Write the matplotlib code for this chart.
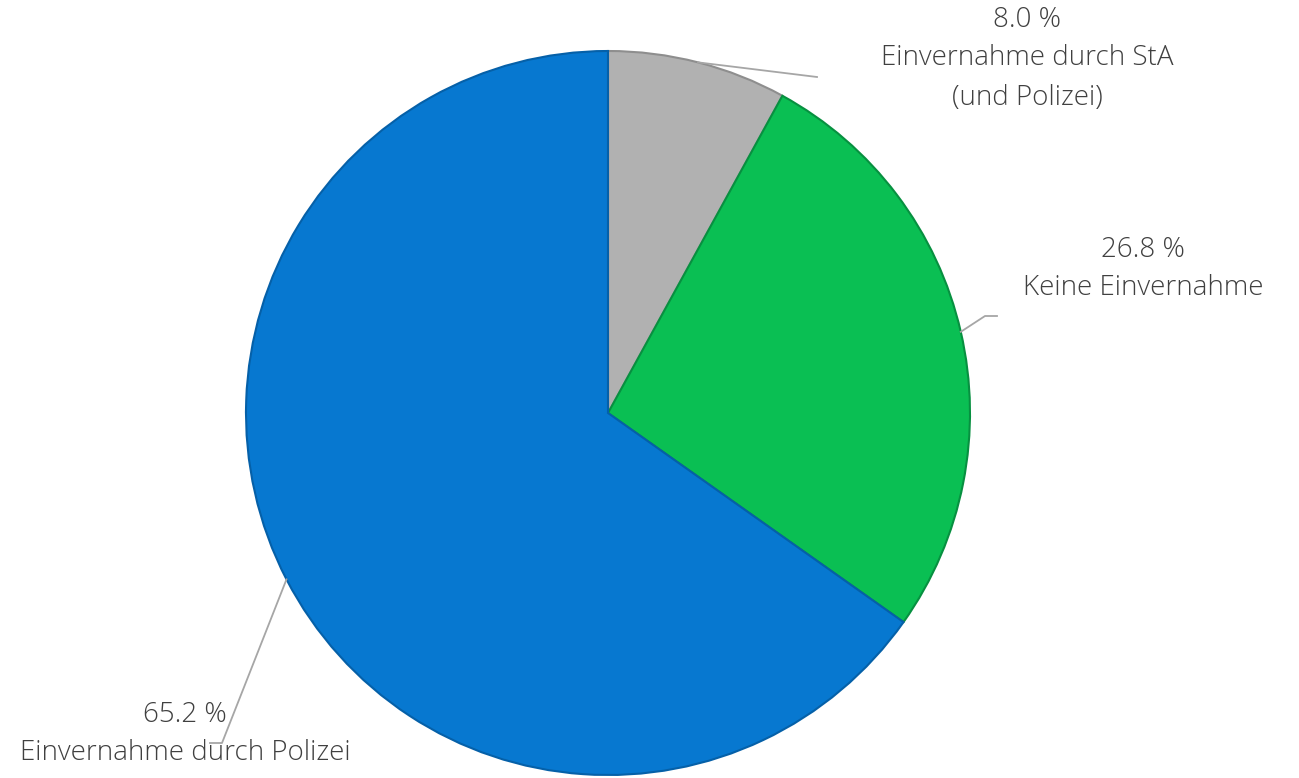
import numpy as np
import matplotlib
matplotlib.use('Agg')
import matplotlib.pyplot as plt

# ----- DADOS
anteile = [8.0, 26.8, 65.2]
kategorien = ["Einvernahme durch StA\n(und Polizei)", "Keine Einvernahme", "Einvernahme durch Polizei"]
farben = ['#B1B1B1', '#0ABF53', '#0778D0']
kanten = ['#8E8E8E', '#079040', '#0560A8']

W, H = 1299, 778
fig = plt.figure(figsize=(W / 100, H / 100), dpi=100)
ax = fig.add_axes([0, 0, 1, 1])
ax.set_xlim(0, W)
ax.set_ylim(0, H)
ax.set_aspect('equal')
ax.axis('off')

cx, cy, r = 608, H - 413, 362
wedges, _ = ax.pie(anteile, colors=farben, startangle=90, counterclock=False,
                   center=(cx, cy), radius=r, frame=True,
                   wedgeprops=dict(linewidth=1.5))
for w, k in zip(wedges, kanten):
    w.set_edgecolor(k)
ax.set_xlim(0, W)
ax.set_ylim(0, H)
ax.axis('off')

# ----- RÓTULOS
txt = dict(family=['Open Sans', 'DejaVu Sans'], fontweight='light',
           color='#404040', fontsize=20, ha='center', va='center', linespacing=1.45)
label_pos = [(1027, 20), (1143, 250), (185, 715)]
knick = [[(817, 77)], [(985, 316), (997, 316)], [(222, 743), (210, 743)]]

for w, v, kat, (lx, ly), pts in zip(wedges, anteile, kategorien, label_pos, knick):
    ang = np.deg2rad((w.theta1 + w.theta2) / 2)
    x0, y0 = cx + r * np.cos(ang), cy + r * np.sin(ang)
    xs = [x0] + [p[0] for p in pts]
    ys = [y0] + [H - p[1] for p in pts]
    ax.plot(xs, ys, color='#A6A6A6', lw=1.3, zorder=3)
    ax.text(lx, H - ly, f"{v:.1f} %", **txt)
    for i, linha in enumerate(kat.split("\n")):
        ax.text(lx, H - ly - 38 - 40 * i, linha, **txt)

fig.savefig("out.png", dpi=100)
